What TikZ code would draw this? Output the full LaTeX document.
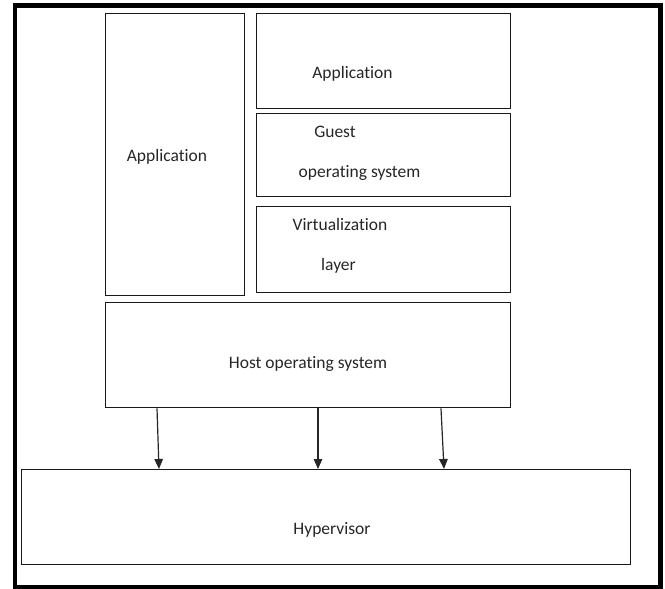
\documentclass[tikz,border=0pt]{standalone}
\usepackage{fontspec}
\setmainfont{Carlito}[Ligatures=NoCommon]
\usetikzlibrary{arrows.meta}
\tikzset{
  box/.style={draw=black!90, line width=1.3pt, rectangle, inner sep=0pt, anchor=north west},
  lbl/.style={anchor=base, inner sep=0pt, font=\fontsize{17.5}{20}\selectfont, text=black!85},
  arr/.style={draw=black!85, line width=1.2pt, -{Triangle[width=8.5pt,length=10pt]}}
}
\begin{document}
\begin{tikzpicture}[x=1pt,y=-1pt]
\useasboundingbox (0,0) rectangle (665,589);
\draw[line width=4.5pt] (15,5.5) rectangle (660.5,587);
% boxes
\node[box, minimum width=139pt, minimum height=282pt] (appl) at (105,13) {};
\node[box, minimum width=254pt, minimum height=95pt] (appr) at (256,13) {};
\node[box, minimum width=254pt, minimum height=83pt] (guest) at (256,113) {};
\node[box, minimum width=254pt, minimum height=86pt] (virt) at (256,206) {};
\node[box, minimum width=405pt, minimum height=105pt] (host) at (105,302) {};
\node[box, minimum width=609pt, minimum height=95pt] (hyp) at (21,469) {};
% labels
\node[lbl] (tappl) at (167,161) {Application};
\node[lbl] (tappr) at (352.5,78) {Application};
\node[lbl] (tguest1) at (335,137) {Guest};
\node[lbl] (tguest2) at (359.5,177) {operating system};
\node[lbl] (tvirt1) at (340,230) {Virtualization};
\node[lbl] (tvirt2) at (338.5,270) {layer};
\node[lbl] (thost) at (308,368) {Host operating system};
\node[lbl] (thyp) at (332,534) {Hypervisor};
% arrows
\draw[arr] ([xshift=52pt]host.south west) -- ([xshift=138pt]hyp.north west);
\draw[arr] ([xshift=213pt]host.south west) -- ([xshift=297pt]hyp.north west);
\draw[arr] ([xshift=336pt]host.south west) -- ([xshift=423pt]hyp.north west);
\end{tikzpicture}
\end{document}
